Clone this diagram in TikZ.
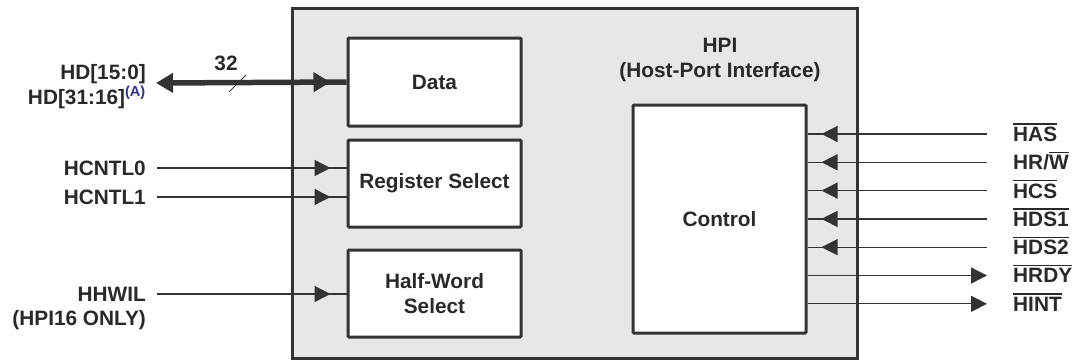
\documentclass[tikz,border=0pt]{standalone}
\usepackage{fontspec}
\setmainfont{Liberation Sans}
\usetikzlibrary{arrows.meta,decorations.markings}

\definecolor{ink}{HTML}{333333}
\definecolor{hpigray}{HTML}{E6E7E8}
\definecolor{noteblue}{HTML}{2E3192}

\newcommand\ovl[1]{\leavevmode\vbox{\hrule height 1.3pt\kern 2.2pt\hbox{#1}}}

\tikzset{
  sigtip/.tip={Triangle[length=16pt,width=16pt]},
  bustip/.tip={Triangle[length=17pt,width=19pt]},
  lbl/.style={text=ink!80!black,font=\bfseries\fontsize{20.8}{25}\selectfont,
    text height=14.8pt,text depth=0pt,inner ysep=0pt,inner xsep=0pt},
  sigl/.style={lbl,anchor=east,inner xsep=11pt},
  sigr/.style={lbl,anchor=west,inner xsep=26pt},
  blk/.style={lbl,draw=ink,line width=3pt,fill=white,rounded corners=1pt,
    minimum width=173pt,align=center,text height=,text depth=},
  wire/.style={ink,line width=1.3pt},
  inarrow/.style={wire,postaction={decorate},
    decoration={markings,mark=at position #1 with {\arrow{sigtip}}}},
  outarrow/.style={wire,-{sigtip}},
  bus/.style={ink,line width=5.5pt,{bustip}-,
    postaction={decorate},
    decoration={markings,mark=at position -16pt with {\arrow{bustip}}}}
}

\begin{document}
\begin{tikzpicture}[x=1pt,y=-1pt]
  \useasboundingbox (0,0) rectangle (1078,360);

  \draw[draw=ink,line width=3pt,fill=hpigray] (292,8) rectangle (857,358);

  \node[blk,minimum height=88pt] (data) at (434.5,82) {Data};
  \node[blk,minimum height=87pt] (regsel) at (434.5,183.5) {Register Select};
  \node[blk,minimum height=87pt] (hws) at (434.5,293.5) {Half-Word\\Select};
  \node[blk,minimum height=228pt] (ctrl) at (719.5,219) {Control};
  \node[lbl,align=center,text height=,text depth=] (hpi) at (720,60) {HPI\\(Host-Port Interface)};

  % host side
  \node[lbl,anchor=east] (hd0) at (146,72) {HD[15:0]};
  \node[lbl,anchor=east] (hd1) at (146,97) {HD[31:16]\textsuperscript{\color{noteblue}(A)}};
  \coordinate (busl) at (156,83);
  \draw[bus] (busl) -- (data.west);
  \node[lbl] (width) at (226,63) {32};
  \draw[ink,line width=1pt] (229,92) -- (246,75);

  \node[sigl] (hcntl0) at (157,168) {HCNTL0};
  \node[sigl] (hcntl1) at (157,197) {HCNTL1};
  \node[sigl] (hhwil) at (157,294) {HHWIL};
  \node[sigl] (hpi16) at (157,318) {(HPI16 ONLY)};

  \foreach \from/\to in {hcntl0/regsel,hcntl1/regsel,hhwil/hws}
    \draw[inarrow=-16pt] (\from.east) -- (\to.west |- \from.east);

  % control signals
  \node[sigr] (has)  at (987,134)   {\ovl{HAS}};
  \node[sigr] (hrw)  at (987,162.3) {HR/\ovl{W}};
  \node[sigr] (hcs)  at (987,190.6) {\ovl{HCS}};
  \node[sigr] (hds1) at (987,218.9) {\ovl{HDS1}};
  \node[sigr] (hds2) at (987,247.2) {\ovl{HDS2}};
  \node[sigr] (hrdy) at (987,275.5) {\ovl{HRDY}};
  \node[sigr] (hint) at (987,303.8) {\ovl{HINT}};

  \foreach \s in {has,hrw,hcs,hds1,hds2}
    \draw[inarrow=-14pt] (\s.west) -- (ctrl.east |- \s.west);
  \foreach \s in {hrdy,hint}
    \draw[outarrow] (ctrl.east |- \s.west) -- (\s.west);

\end{tikzpicture}
\end{document}
